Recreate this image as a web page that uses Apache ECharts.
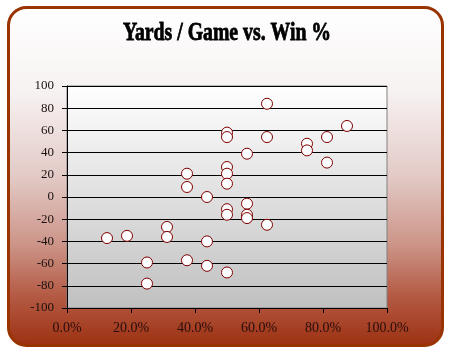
<!DOCTYPE html>
<html><head><meta charset="utf-8">
<script src="https://cdn.jsdelivr.net/npm/echarts@6/dist/echarts.min.js"></script>
<style>html,body{margin:0;padding:0;background:#fff;}#c{width:455px;height:358px;}</style>
</head><body><div id="c"></div>
<script>
var titleText = 'Yards / Game vs. Win %';
var winPct = [0.125,0.1875,0.25,0.25,0.3125,0.3125,0.375,0.375,0.375,0.4375,0.4375,0.4375,
  0.5,0.5,0.5,0.5,0.5,0.5,0.5,0.5,0.5625,0.5625,0.5625,0.5625,0.625,0.625,0.625,
  0.75,0.75,0.8125,0.8125,0.875];
var yardsPerGame = [-37,-35,-59,-78,-27,-36,21,9,-57,0,-40,-62,
  58,54,27,21,12,-11,-16,-68,39,-6,-16,-19,84,54,-25,
  48,42,54,31,64];
var yTicks = {min:-100,max:100,interval:20};
var xTicks = {min:0,max:1,interval:0.2};

var points = winPct.map(function(x,i){return [x,yardsPerGame[i]];});
var chart = echarts.init(document.getElementById('c'));
chart.setOption({
  animation:false,
  backgroundColor:'#ffffff',
  graphic:[
    {type:'rect',z:-10,silent:true,shape:{x:8.5,y:7.5,width:434,height:338,r:18},
     style:{fill:new echarts.graphic.LinearGradient(0,0,0,1,[
       {offset:0,color:'#ffffff'},{offset:0.25,color:'#f7f2f2'},{offset:0.5,color:'#e2cac6'},
       {offset:0.7,color:'#cc9488'},{offset:0.85,color:'#b45a44'},{offset:1,color:'#9c3010'}]),
       stroke:'#993300',lineWidth:3}},
    {type:'text',z:10,x:227,y:33,scaleX:0.76,silent:true,
     style:{text:titleText,font:'bold 26px "Liberation Serif"',fill:'#000',
       textAlign:'center',textVerticalAlign:'middle',stroke:'#000',lineWidth:0.8}}
  ],
  grid:{left:67,right:68,top:86,bottom:50,show:true,borderColor:'#808080',borderWidth:1,
    backgroundColor:new echarts.graphic.LinearGradient(0,0,0,1,[{offset:0,color:'#ffffff'},{offset:1,color:'#c0c0c0'}])},
  xAxis:{type:'value',min:xTicks.min,max:xTicks.max,interval:xTicks.interval,
    axisLine:{show:true,onZero:false,lineStyle:{color:'#000',width:1}},
    axisTick:{show:true,inside:false,length:5,lineStyle:{color:'#000'}},
    splitLine:{show:false},
    axisLabel:{margin:13,color:'#2a0c0c',fontFamily:'Liberation Serif',fontSize:14,
      formatter:function(v){return (v*100).toFixed(1)+'%';}}},
  yAxis:{type:'value',min:yTicks.min,max:yTicks.max,interval:yTicks.interval,
    axisLine:{show:true,onZero:false,lineStyle:{color:'#000',width:1}},
    axisTick:{show:true,inside:false,length:5,lineStyle:{color:'#000'}},
    splitLine:{show:true,lineStyle:{color:'#000',width:1}},
    axisLabel:{margin:13,color:'#1a1010',fontFamily:'Liberation Serif',fontSize:13}},
  series:[{type:'scatter',data:points,symbol:'circle',symbolSize:11,
    itemStyle:{color:'#ffffff',borderColor:'#800000',borderWidth:1,opacity:1}}]
});
</script></body></html>
